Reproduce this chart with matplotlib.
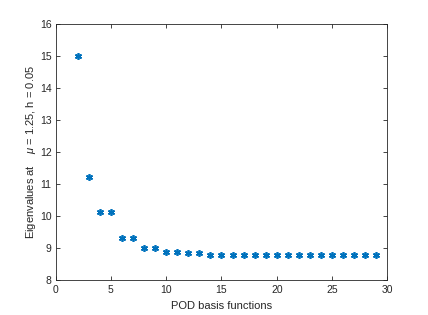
import matplotlib
matplotlib.use("Agg")
import matplotlib.pyplot as plt

x_vals = list(range(2, 30))
eigenvalues = [15.0, 11.23, 10.12, 10.12, 9.33, 9.33, 9.02, 9.02, 8.87, 8.87,
               8.85, 8.85, 8.80, 8.80, 8.80, 8.78, 8.78, 8.78, 8.78, 8.78,
               8.78, 8.78, 8.78, 8.78, 8.78, 8.78, 8.78, 8.78]
xticks = [0, 5, 10, 15, 20, 25, 30]
yticks = [8, 9, 10, 11, 12, 13, 14, 15, 16]

plt.rcParams['font.family'] = ['Liberation Sans', 'DejaVu Sans']
plt.rcParams['mathtext.fontset'] = 'custom'
plt.rcParams['mathtext.it'] = 'Liberation Sans:italic'
plt.rcParams['mathtext.rm'] = 'Liberation Sans'

fig = plt.figure(figsize=(4.28, 3.15), dpi=100)
ax = fig.add_axes([0.13, 0.11, 0.775, 0.815])
ax.plot(x_vals, eigenvalues, linestyle='none', marker=(6, 2, 0), markersize=5,
        color='#0072BD', markeredgewidth=1.2)
ax.set_xlim(0, 30)
ax.set_ylim(8, 16)
ax.set_xticks(xticks)
ax.set_yticks(yticks)
axc = '#262626'
for s in ax.spines.values():
    s.set_color(axc)
    s.set_linewidth(0.6)
ax.tick_params(direction='in', length=3, width=0.6, colors=axc, labelsize=7.5,
               top=True, right=True, pad=3)
ax.set_xlabel('POD basis functions', fontsize=8, color=axc, labelpad=5)
ax.set_ylabel(r'Eigenvalues at    $\mu$ = 1.25, h = 0.05', fontsize=8, color=axc, labelpad=1)
fig.savefig('out.png', dpi=100)
